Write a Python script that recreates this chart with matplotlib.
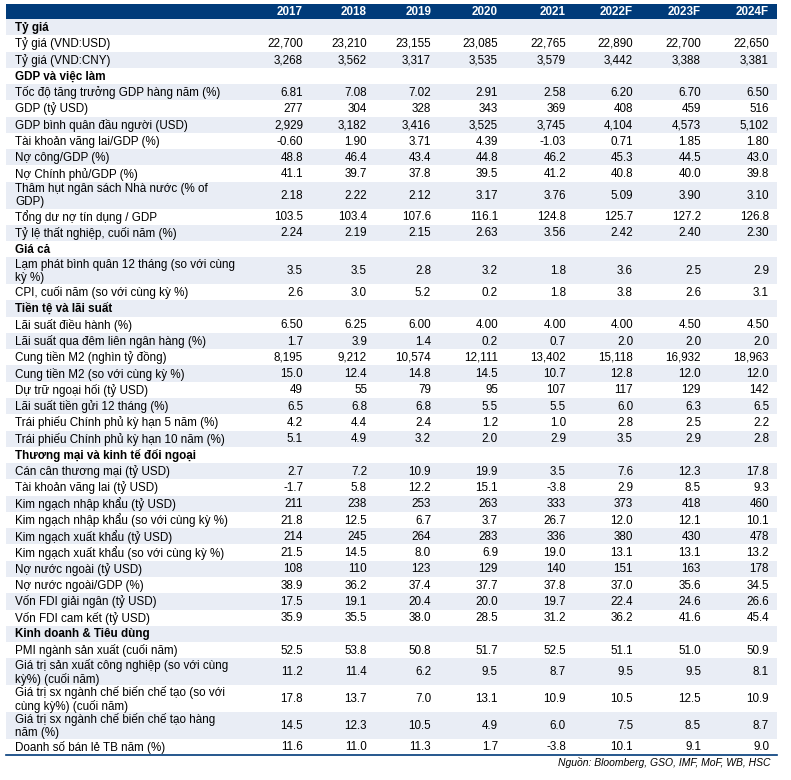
import matplotlib
matplotlib.use("Agg")
import matplotlib.pyplot as plt
from matplotlib.patches import Rectangle

plt.rcParams["font.family"] = ["Liberation Sans", "DejaVu Sans"]

# ---- data ----
years = ["2017", "2018", "2019", "2020", "2021", "2022F", "2023F", "2024F"]

# (label, is_section) ; "\n" marks a wrapped (tall) row
labels = [
    ("Tỷ giá", True),
    ("Tỷ giá (VND:USD)", False),
    ("Tỷ giá (VND:CNY)", False),
    ("GDP và việc làm", True),
    ("Tốc độ tăng trưởng GDP hàng năm (%)", False),
    ("GDP (tỷ USD)", False),
    ("GDP bình quân đầu người (USD)", False),
    ("Tài khoản vãng lai/GDP (%)", False),
    ("Nợ công/GDP (%)", False),
    ("Nợ Chính phủ/GDP (%)", False),
    ("Thâm hụt ngân sách Nhà nước (% of\nGDP)", False),
    ("Tổng dư nợ tín dụng / GDP", False),
    ("Tỷ lệ thất nghiệp, cuối năm (%)", False),
    ("Giá cả", True),
    ("Lạm phát bình quân 12 tháng (so với cùng\nkỳ %)", False),
    ("CPI, cuối năm (so với cùng kỳ %)", False),
    ("Tiền tệ và lãi suất", True),
    ("Lãi suất điều hành (%)", False),
    ("Lãi suất qua đêm liên ngân hàng (%)", False),
    ("Cung tiền M2 (nghìn tỷ đồng)", False),
    ("Cung tiền M2 (so với cùng kỳ %)", False),
    ("Dự trữ ngoại hối (tỷ USD)", False),
    ("Lãi suất tiền gửi 12 tháng (%)", False),
    ("Trái phiếu Chính phủ kỳ hạn 5 năm (%)", False),
    ("Trái phiếu Chính phủ kỳ hạn 10 năm (%)", False),
    ("Thương mại và kinh tế đối ngoại", True),
    ("Cán cân thương mại (tỷ USD)", False),
    ("Tài khoản vãng lai (tỷ USD)", False),
    ("Kim ngạch nhập khẩu (tỷ USD)", False),
    ("Kim ngạch nhập khẩu (so với cùng kỳ %)", False),
    ("Kim ngạch xuất khẩu (tỷ USD)", False),
    ("Kim ngạch xuất khẩu (so với cùng kỳ %)", False),
    ("Nợ nước ngoài (tỷ USD)", False),
    ("Nợ nước ngoài/GDP (%)", False),
    ("Vốn FDI giải ngân (tỷ USD)", False),
    ("Vốn FDI cam kết (tỷ USD)", False),
    ("Kinh doanh & Tiêu dùng", True),
    ("PMI ngành sản xuất (cuối năm)", False),
    ("Giá trị sản xuất công nghiệp (so với cùng\nkỳ%) (cuối năm)", False),
    ("Giá trị sx ngành chế biến chế tạo (so với\ncùng kỳ%) (cuối năm)", False),
    ("Giá trị sx ngành chế biến chế tạo hàng\nnăm (%)", False),
    ("Doanh số bán lẻ TB năm (%)", False),
]

v2017 = ["", "22,700", "3,268", "", "6.81", "277", "2,929", "-0.60", "48.8", "41.1", "2.18", "103.5", "2.24",
         "", "3.5", "2.6", "", "6.50", "1.7", "8,195", "15.0", "49", "6.5", "4.2", "5.1",
         "", "2.7", "-1.7", "211", "21.8", "214", "21.5", "108", "38.9", "17.5", "35.9",
         "", "52.5", "11.2", "17.8", "14.5", "11.6"]
v2018 = ["", "23,210", "3,562", "", "7.08", "304", "3,182", "1.90", "46.4", "39.7", "2.22", "103.4", "2.19",
         "", "3.5", "3.0", "", "6.25", "3.9", "9,212", "12.4", "55", "6.8", "4.4", "4.9",
         "", "7.2", "5.8", "238", "12.5", "245", "14.5", "110", "36.2", "19.1", "35.5",
         "", "53.8", "11.4", "13.7", "12.3", "11.0"]
v2019 = ["", "23,155", "3,317", "", "7.02", "328", "3,416", "3.71", "43.4", "37.8", "2.12", "107.6", "2.15",
         "", "2.8", "5.2", "", "6.00", "1.4", "10,574", "14.8", "79", "6.8", "2.4", "3.2",
         "", "10.9", "12.2", "253", "6.7", "264", "8.0", "123", "37.4", "20.4", "38.0",
         "", "50.8", "6.2", "7.0", "10.5", "11.3"]
v2020 = ["", "23,085", "3,535", "", "2.91", "343", "3,525", "4.39", "44.8", "39.5", "3.17", "116.1", "2.63",
         "", "3.2", "0.2", "", "4.00", "0.2", "12,111", "14.5", "95", "5.5", "1.2", "2.0",
         "", "19.9", "15.1", "263", "3.7", "283", "6.9", "129", "37.7", "20.0", "28.5",
         "", "51.7", "9.5", "13.1", "4.9", "1.7"]
v2021 = ["", "22,765", "3,579", "", "2.58", "369", "3,745", "-1.03", "46.2", "41.2", "3.76", "124.8", "3.56",
         "", "1.8", "1.8", "", "4.00", "0.7", "13,402", "10.7", "107", "5.5", "1.0", "2.9",
         "", "3.5", "-3.8", "333", "26.7", "336", "19.0", "140", "37.8", "19.7", "31.2",
         "", "52.5", "8.7", "10.9", "6.0", "-3.8"]
v2022 = ["", "22,890", "3,442", "", "6.20", "408", "4,104", "0.71", "45.3", "40.8", "5.09", "125.7", "2.42",
         "", "3.6", "3.8", "", "4.00", "2.0", "15,118", "12.8", "117", "6.0", "2.8", "3.5",
         "", "7.6", "2.9", "373", "12.0", "380", "13.1", "151", "37.0", "22.4", "36.2",
         "", "51.1", "9.5", "10.5", "7.5", "10.1"]
v2023 = ["", "22,700", "3,388", "", "6.70", "459", "4,573", "1.85", "44.5", "40.0", "3.90", "127.2", "2.40",
         "", "2.5", "2.6", "", "4.50", "2.0", "16,932", "12.0", "129", "6.3", "2.5", "2.9",
         "", "12.3", "8.5", "418", "12.1", "430", "13.1", "163", "35.6", "24.6", "41.6",
         "", "51.0", "9.5", "12.5", "8.5", "9.1"]
v2024 = ["", "22,650", "3,381", "", "6.50", "516", "5,102", "1.80", "43.0", "39.8", "3.10", "126.8", "2.30",
         "", "2.9", "3.1", "", "4.50", "2.0", "18,963", "12.0", "142", "6.5", "2.2", "2.8",
         "", "17.8", "9.3", "460", "10.1", "478", "13.2", "178", "34.5", "26.6", "45.4",
         "", "50.9", "8.1", "10.9", "8.7", "9.0"]
columns = [v2017, v2018, v2019, v2020, v2021, v2022, v2023, v2024]
source = "Nguồn: Bloomberg, GSO, IMF, MoF, WB, HSC"

# ---- layout (pixels) ----
W, H = 791, 780
header_color = "#003B7A"
shade_color = "#E9EDF5"
fs = 8.4
x_left, x_right = 6, 777
label_x = 15
col_right = [303, 367, 431, 498, 566, 633, 701, 769]
header_top, header_bot = 4, 19
row_h, tall_h = 16.27, 26.8

fig = plt.figure(figsize=(W / 100, H / 100), dpi=100)
ax = fig.add_axes([0, 0, 1, 1])
ax.set_xlim(0, W)
ax.set_ylim(H, 0)
ax.axis("off")

# header
ax.add_patch(Rectangle((x_left, header_top), x_right - x_left, header_bot - header_top,
                       facecolor=header_color, edgecolor="none"))
for yr, xr in zip(years, col_right):
    ax.text(xr, (header_top + header_bot) / 2 + 0.5, yr, ha="right", va="center",
            fontsize=fs, fontweight="bold", color="white")

y = header_bot
for i, (lab, is_sec) in enumerate(labels):
    h = tall_h if "\n" in lab else row_h
    if i % 2 == 0:
        ax.add_patch(Rectangle((x_left, y), x_right - x_left, h,
                               facecolor=shade_color, edgecolor="none"))
    yc = y + h / 2 + 0.5
    ax.text(label_x, yc, lab, ha="left", va="center", fontsize=fs, linespacing=1.1,
            fontweight="bold" if is_sec else "normal", color="black")
    for col, xr in zip(columns, col_right):
        if col[i]:
            ax.text(xr, yc, col[i], ha="right", va="center", fontsize=fs, color="black")
    y += h

ax.plot([x_left, x_right], [y, y], color=header_color, lw=1.2)
ax.text(771, y + 8, source, ha="right", va="center", fontsize=fs - 0.9,
        style="italic", color="black")

fig.savefig("out.png", dpi=100)
